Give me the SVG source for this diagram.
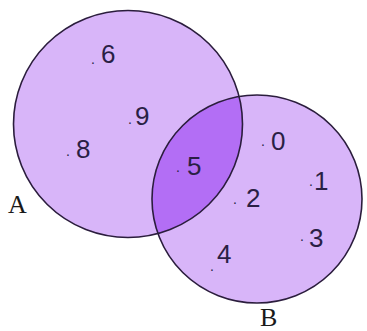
<svg xmlns="http://www.w3.org/2000/svg" width="367" height="331" viewBox="0 0 367 331">
<style>
.fill{fill:#d8b5f9;stroke:none}
.edge{fill:none;stroke:#2b1d3d;stroke-width:1.6}
.inter{fill:#b36ef5;stroke:none}
.num{font-family:"Liberation Sans",Arial,sans-serif;font-size:26px;fill:#2a1f45}
.dot{font-size:14px}
.lbl{font-family:"Liberation Serif","Times New Roman",serif;font-size:26px;fill:#1a1a1a}
</style>
<defs>
<clipPath id="clipB"><ellipse cx="257" cy="199" rx="105" ry="104"/></clipPath>
</defs>
<rect width="367" height="331" fill="#ffffff"/>
<g id="fills">
<ellipse class="fill" cx="128" cy="124" rx="114.5" ry="113.5"/>
<ellipse class="fill" cx="257" cy="199" rx="105" ry="104"/>
</g>
<g id="intersection">
<ellipse class="inter" cx="128" cy="124" rx="114.5" ry="113.5" clip-path="url(#clipB)"/>
</g>
<g id="setA">
<ellipse class="edge" cx="128" cy="124" rx="114.5" ry="113.5"/>
<text class="lbl" x="8" y="213">A</text>
</g>
<g id="setB">
<ellipse class="edge" cx="257" cy="199" rx="105" ry="104"/>
<text class="lbl" x="260" y="326">B</text>
</g>
<g id="elements">
<text class="num"><tspan class="dot" x="91" y="64">.</tspan><tspan x="101" y="63">6</tspan></text>
<text class="num"><tspan class="dot" x="128" y="124">.</tspan><tspan x="135" y="125">9</tspan></text>
<text class="num"><tspan class="dot" x="66" y="156">.</tspan><tspan x="76" y="158">8</tspan></text>
<text class="num"><tspan class="dot" x="176" y="172">.</tspan><tspan x="187" y="175">5</tspan></text>
<text class="num"><tspan class="dot" x="261" y="146">.</tspan><tspan x="271" y="150">0</tspan></text>
<text class="num"><tspan class="dot" x="309" y="186">.</tspan><tspan x="314" y="190">1</tspan></text>
<text class="num"><tspan class="dot" x="233" y="204">.</tspan><tspan x="246" y="207">2</tspan></text>
<text class="num"><tspan class="dot" x="300" y="241">.</tspan><tspan x="309" y="247">3</tspan></text>
<text class="num"><tspan x="217" y="263">4</tspan><tspan class="dot" x="210" y="271">.</tspan></text>
</g>
</svg>
